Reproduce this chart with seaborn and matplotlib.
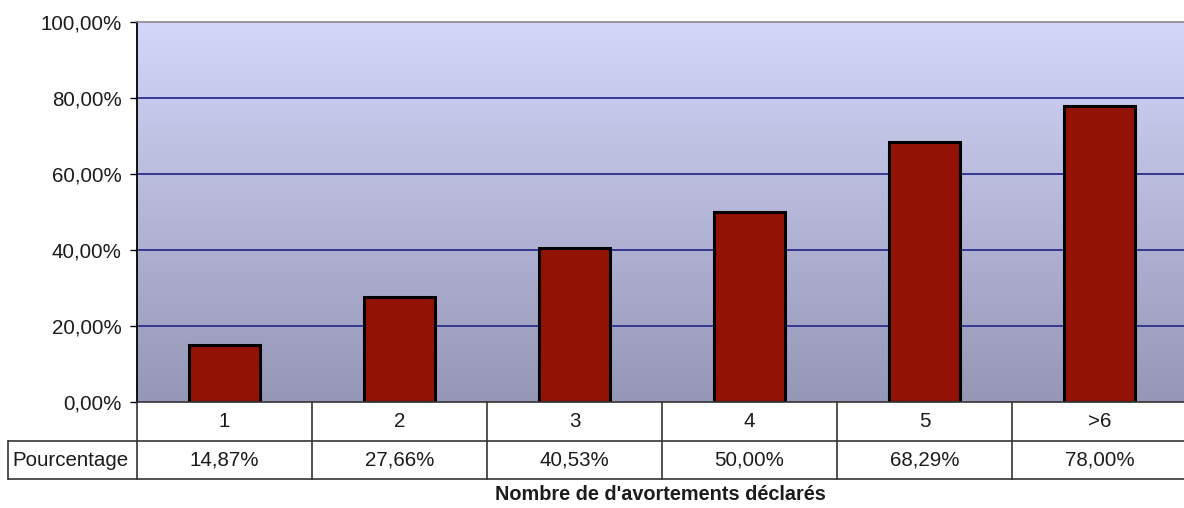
import numpy as np
import matplotlib
matplotlib.use("Agg")
import matplotlib.pyplot as plt
import matplotlib.transforms as mtransforms
from matplotlib.ticker import FixedLocator, FuncFormatter
import seaborn as sns

# Data
categories = ["1", "2", "3", "4", "5", ">6"]
percentages = [14.87, 27.66, 40.53, 50.00, 68.29, 78.00]
row_label = "Pourcentage"
x_title = "Nombre de d'avortements déclarés"
y_ticks = [0, 20, 40, 60, 80, 100]


def fr_pct(v):
    return f"{v:.2f}%".replace(".", ",")


sns.set_theme(style="white")
plt.rcParams["font.family"] = ["Liberation Sans", "DejaVu Sans"]
FS = 14.8
TXT = "#1c1c1c"

fig = plt.figure(figsize=(11.84, 5.08), dpi=100)
ax = fig.add_axes([137 / 1184, 106 / 508, 1050 / 1184, 380 / 508])

# Vertical gradient plot background
grad = np.linspace(0, 1, 256).reshape(-1, 1)
top = np.array([212, 215, 250]) / 255
bot = np.array([150, 150, 182]) / 255
img = top[None, None, :] * (1 - grad[..., None]) + bot[None, None, :] * grad[..., None]
ax.imshow(img, extent=[-0.5, 5.5, 0, 100], aspect="auto", zorder=0, origin="upper")

sns.barplot(x=categories, y=percentages, color="#931206", edgecolor="black",
            linewidth=2.2, width=0.41, saturation=1, ax=ax, zorder=2)

ax.set_xlim(-0.5, 5.5)
ax.set_ylim(0, 100)
ax.yaxis.set_major_locator(FixedLocator(y_ticks))
ax.yaxis.set_major_formatter(FuncFormatter(lambda v, p: fr_pct(v)))
ax.grid(False)
for v in y_ticks[1:-1]:
    ax.axhline(v, color="#2a2e8e", lw=1.3, zorder=1)

ax.tick_params(axis="y", left=True, length=5, width=1, color="black",
               labelsize=FS, labelcolor=TXT, pad=6)
ax.tick_params(axis="x", bottom=False, labelbottom=False)
ax.set_xlabel("")
ax.set_ylabel("")

ax.spines["top"].set_color("#8a8a8a")
ax.spines["top"].set_linewidth(1.2)
ax.spines["right"].set_visible(False)
ax.spines["left"].set_color("black")
ax.spines["left"].set_linewidth(1.3)
ax.spines["bottom"].set_color("#333333")
ax.spines["bottom"].set_linewidth(1.2)

# Data table beneath the axis
blend = mtransforms.blended_transform_factory(ax.transData, ax.transAxes)
r1 = -39 / 380
r2 = -77 / 380
xl = (8 - 137) / 1050
lc = "#333333"
lw = 1.2

# horizontal rules
ax.plot([xl, 1], [r1, r1], transform=ax.transAxes, color=lc, lw=lw, clip_on=False)
ax.plot([xl, 1], [r2, r2], transform=ax.transAxes, color=lc, lw=lw, clip_on=False)
# vertical rules
ax.plot([xl, xl], [r1, r2], transform=ax.transAxes, color=lc, lw=lw, clip_on=False)
ax.plot([0, 0], [0, r2], transform=ax.transAxes, color=lc, lw=lw, clip_on=False)
for i in range(1, len(categories)):
    ax.plot([i - 0.5, i - 0.5], [0, r2], transform=blend, color=lc, lw=lw, clip_on=False)

for i, (c, v) in enumerate(zip(categories, percentages)):
    ax.text(i, r1 / 2, c, transform=blend, ha="center", va="center",
            fontsize=FS, color=TXT)
    ax.text(i, (r1 + r2) / 2, fr_pct(v), transform=blend, ha="center",
            va="center", fontsize=FS, color=TXT)
ax.text(xl + 0.004, (r1 + r2) / 2, row_label, transform=ax.transAxes,
        ha="left", va="center", fontsize=FS, color=TXT)

fig.text(660 / 1184, 1 - 495 / 508, x_title, ha="center", va="center",
         fontsize=FS - 0.5, fontweight="bold", color=TXT)

fig.savefig("out.png", dpi=100, facecolor="white")
